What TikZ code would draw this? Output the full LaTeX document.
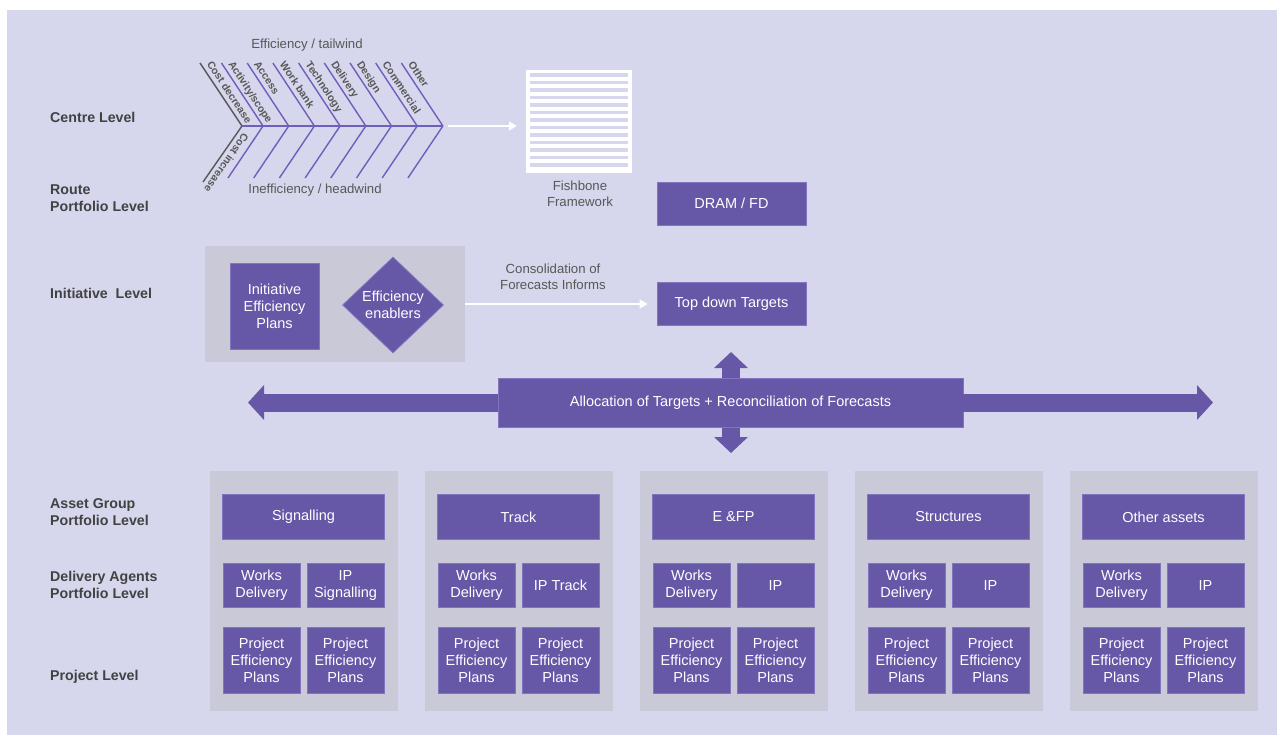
\documentclass[tikz,border=0pt]{standalone}
\usepackage{fontspec}
\setmainfont{Liberation Sans}
\usepackage{xcolor}
\usetikzlibrary{arrows.meta,shapes.geometric,calc,positioning}

\definecolor{bgLav}{RGB}{214,214,236}
\definecolor{panelGray}{RGB}{201,201,215}
\definecolor{boxPurple}{RGB}{103,87,167}
\definecolor{boxEdge}{RGB}{130,116,192}
\definecolor{bonePurple}{RGB}{112,94,188}
\definecolor{labelGray}{RGB}{66,66,66}
\definecolor{capGray}{RGB}{88,88,88}

\begin{document}
\begin{tikzpicture}[x=1pt,y=-1pt,
		box/.style={draw=boxEdge, line width=0.8pt, fill=boxPurple, text=white, align=center, inner sep=0pt, font=\fontsize{14.5}{17}\selectfont},
		panel/.style={fill=panelGray, inner sep=0pt},
		level/.style={anchor=west, align=left, inner sep=0pt, text=labelGray, font=\bfseries\fontsize{14.2}{17}\selectfont},
		caption/.style={align=center, text=capGray, font=\fontsize{13.2}{16}\selectfont},
		bone/.style={draw=bonePurple, line width=1.4pt},
		greybone/.style={draw=capGray, line width=1.4pt},
		bonelabel/.style={sloped, anchor=south west, text depth=0pt, inner xsep=4pt, inner ysep=4pt, text=capGray, font=\bfseries\fontsize{10.5}{12}\selectfont},
		whitearrow/.style={draw=white, line width=1.6pt, -{Triangle[width=9pt,length=8pt]}},
		bigarrow/.style={draw=boxPurple, line width=18pt, -{Triangle[width=34pt,length=16pt]}}
	]
		\useasboundingbox (0,0) rectangle (1277,742);
		\fill[white] (0,0) rectangle (1277,742);
		\fill[bgLav] (7,10) rectangle (1277,735);

		% level names on the left
		\node[level] (centre) at (50,117) {Centre Level};
		\node[level] (route) at (50,198.5) {Route\\Portfolio Level};
		\node[level] (initiative) at (50,293) {Initiative~ Level};
		\node[level] (asset) at (50,512) {Asset Group\\Portfolio Level};
		\node[level] (agents) at (50,585) {Delivery Agents\\Portfolio Level};
		\node[level] (project) at (50,677) {Project Level};

		% fishbone
		\coordinate (fishtail) at (242,126);
		\coordinate (fishhead) at (443,126);
		\draw[greybone] (200,63) -- node[bonelabel, pos=0] {Cost decrease} (fishtail);
		\draw[greybone] (fishtail) -- node[bonelabel, pos=0, allow upside down] {Cost increase} (203,182);
		\draw[bone] (fishtail) -- (fishhead);
		\foreach \lab [count=\i from 0] in {{Activity/scope}, Access, Work bank, Technology, Delivery, Design, Commercial, Other} {
			\coordinate (sp\i) at ({263+25.7*\i},126);
			\draw[bone] ($(sp\i)+(-41.5,-63)$) -- node[bonelabel, pos=0] {\lab} (sp\i);
			\draw[bone] (sp\i) -- ++(-35,52);
		}
		\node[caption] (tailwind) at (307,45) {Efficiency / tailwind};
		\node[caption] (headwind) at (315,190) {Inefficiency / headwind};

		\node[fill=white, minimum width=106pt, minimum height=103pt, inner sep=0pt] (fishdoc) at (579,121.5) {};
		\foreach \k in {0,...,12}
			\draw[bgLav, line width=3.4pt] ($(fishdoc.north west)+(4,5+7.53*\k)$) -- ++(98,0);
		\draw[whitearrow, shorten <=5pt, shorten >=9pt] (fishhead) -- (fishdoc.west |- fishhead);
		\node[caption] (fishcap) at (580,194) {Fishbone\\Framework};

		\node[box, minimum width=149pt, minimum height=43pt] (dram) at (731.5,203.5) {DRAM / FD};

		% initiative level
		\node[panel, minimum width=260pt, minimum height=116pt] (initpanel) at (335,304) {};
		\node[box, minimum width=89pt, minimum height=86pt] (initplans) at (274.5,306) {Initiative\\Efficiency\\Plans};
		\node[box, diamond, minimum width=101pt, minimum height=96pt] (enablers) at (393,305) {Efficiency\\enablers};
		\node[box, minimum width=149pt, minimum height=43pt] (topdown) at (731.5,304) {Top down Targets};
		\node[caption] (consol) at (553,277) {Consolidation of\\Forecasts Informs};
		\draw[whitearrow, shorten >=9pt] (initpanel.east) -- (topdown.west);

		% allocation arrows
		\coordinate (uptip) at (731,352);
		\coordinate (downtip) at (731,453);
		\draw[bigarrow, {Triangle[width=33pt,length=16pt]}-{Triangle[width=33pt,length=16pt]}] (uptip) -- (downtip);
		\node[box, minimum width=465pt, minimum height=49pt] (alloc) at (730.5,402.5) {Allocation of Targets + Reconciliation of Forecasts};
		\coordinate (lefttip) at (248,402.5);
		\coordinate (righttip) at (1213,402.5);
		\draw[bigarrow] (alloc.west) -- (lefttip);
		\draw[bigarrow] (alloc.east) -- (righttip);

		% asset groups
		\foreach \asset/\ipname [count=\i from 0] in {Signalling/{IP\\Signalling}, Track/{IP Track}, {E \&FP}/IP, Structures/IP, {Other assets}/IP} {
			\pgfmathsetmacro{\cx}{303.5+215*\i}
			\node[panel, minimum width=188pt, minimum height=240pt] (panel\i) at (\cx,591) {};
			\node[box, minimum width=162pt, minimum height=45pt] (group\i) at (\cx,517) {\asset};
			\node[box, minimum width=77pt, minimum height=44pt] (works\i) at (\cx-42,585.5) {Works\\Delivery};
			\node[box, minimum width=77pt, minimum height=44pt] (ip\i) at (\cx+42,585.5) {\ipname};
			\node[box, minimum width=77pt, minimum height=66pt] (pepa\i) at (\cx-42,660.5) {Project\\Efficiency\\Plans};
			\node[box, minimum width=77pt, minimum height=66pt] (pepb\i) at (\cx+42,660.5) {Project\\Efficiency\\Plans};
		}
	\end{tikzpicture}
\end{document}
